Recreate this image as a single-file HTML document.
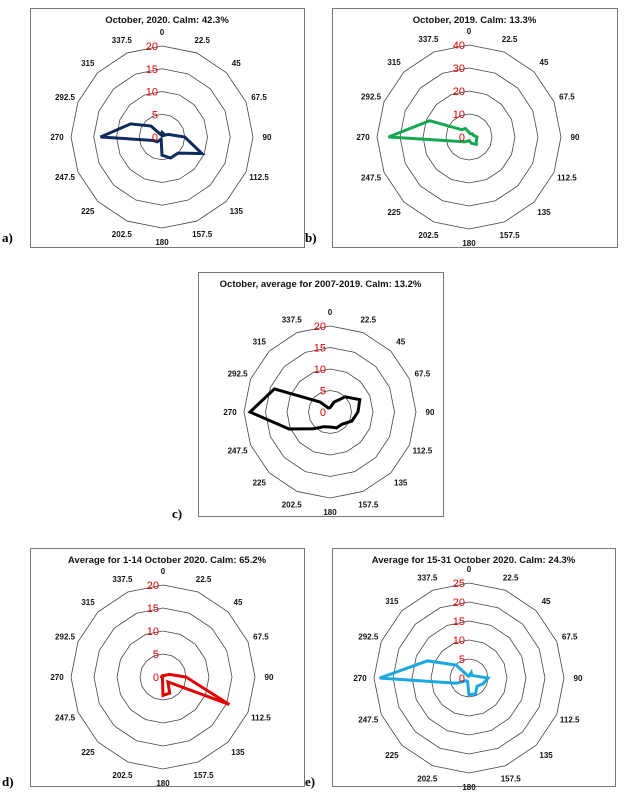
<!DOCTYPE html>
<html><head><meta charset="utf-8"><style>
body{margin:0;background:#fff;}
svg{display:block;font-family:"Liberation Sans",Arial,sans-serif;}
</style></head><body>
<svg id="fig" width="628" height="798" viewBox="0 0 628 798"></svg>
<script>
const directions=[0,22.5,45,67.5,90,112.5,135,157.5,180,202.5,225,247.5,270,292.5,315,337.5];
const valuesA=[1,0.8,0.5,1.5,5,9.5,5,5,4,0.5,1.5,2,13.5,7.5,3.4,0.5];
const valuesB=[2,1.5,2,2,3.5,3.5,4.5,3,1.5,2,3,5,35,18.5,4.5,4];
const valuesC=[1,2.5,5,7.5,6.5,5.5,4,4,3.5,3.7,5.5,10.3,18.6,14,3.3,1];
const valuesD=[0.3,0.2,0.5,1.5,5,15.6,1.5,3.8,4,0.3,0.2,0.2,0.3,0.3,0.2,0.3];
const valuesE=[0.5,1.5,1,1.5,5,4,3,4.5,4.4,1,1,3.6,23.5,11.8,4.8,0.5];
const ticksA=[5,10,15,20];
const ticksB=[10,20,30,40];
const ticksC=[5,10,15,20];
const ticksD=[5,10,15,20];
const ticksE=[5,10,15,20,25];
const titles=["October, 2020. Calm: 42.3%","October, 2019. Calm: 13.3%","October, average for 2007-2019. Calm: 13.2%","Average for 1-14 October 2020. Calm: 65.2%","Average for 15-31 October 2020. Calm: 24.3%"];
const panelLetters=["a)","b)","c)","d)","e)"];

const NS="http://www.w3.org/2000/svg";
const svg=document.getElementById('fig');
function mk(tag,attrs,parent){const e=document.createElementNS(NS,tag);for(const k in attrs)e.setAttribute(k,attrs[k]);(parent||svg).appendChild(e);return e;}

const panels=[
 {box:[30,8,274,239],cx:162,cy:137,r:91,vals:valuesA,ticks:ticksA,color:"#0d2b5c",lab:[2,242],name:"a"},
 {box:[332,8,285,239],cx:469,cy:137,r:92,vals:valuesB,ticks:ticksB,color:"#16a851",lab:[305,242],name:"b"},
 {box:[198,272,245,244],cx:330,cy:412,r:86,vals:valuesC,ticks:ticksC,color:"#000",lab:[172,518],name:"c"},
 {box:[30,548,274,238],cx:163,cy:677,r:92,vals:valuesD,ticks:ticksD,color:"#e30000",lab:[2,786],name:"d"},
 {box:[332,548,283,238],cx:469,cy:678,r:95,vals:valuesE,ticks:ticksE,color:"#1ba8e0",lab:[305,786],name:"e"}
];

panels.forEach((p,i)=>{
 const g=mk('g',{});
 
 
 const b=mk('rect',{x:p.box[0]+0.5,y:p.box[1]+0.5,width:p.box[2],height:p.box[3],fill:'#fff',stroke:'#777','stroke-width':1},g);
 
 
 const t=mk('text',{x:p.box[0]+p.box[2]/2,y:p.box[1]+15,'text-anchor':'middle','font-size':'9.5','font-weight':'bold',fill:'#111'},g);
 t.textContent=titles[i];
 
 
 const max=p.ticks[p.ticks.length-1];
 const rad=v=>v/max*p.r;
 const pt=(deg,rr)=>{const a=deg*Math.PI/180;return [p.cx+rr*Math.sin(a),p.cy-rr*Math.cos(a)];};
 p.ticks.forEach(tv=>{
  const pts=directions.map(d=>pt(d,rad(tv)).join(',')).join(' ');
  const ring=mk('polygon',{points:pts,fill:'none',stroke:'#444','stroke-width':0.8},g);
  
  
 });
 const pts=directions.map((d,k)=>pt(d,rad(p.vals[k])).join(',')).join(' ');
 const line=mk('polygon',{points:pts,fill:'none',stroke:p.color,'stroke-width':3,'stroke-linejoin':'miter'},g);
 
 
 [0].concat(p.ticks).forEach(tv=>{
  const tt=mk('text',{x:p.cx-4,y:p.cy-rad(tv)+4,'text-anchor':'end','font-size':'11',fill:'#e00000'},g);
  tt.textContent=tv;
  
  
 });
 directions.forEach(d=>{
  const q=pt(d,p.r+14);
  const dl=mk('text',{x:q[0],y:q[1]+3,'text-anchor':'middle','font-size':'8','font-weight':'bold',fill:'#111'},g);
  dl.textContent=d;
  
  
 });
 const pl=mk('text',{x:p.lab[0],y:p.lab[1],'font-size':'13','font-weight':'bold','font-family':'"Liberation Serif",serif',fill:'#000'});
 pl.textContent=panelLetters[i];
 
 
});
</script>
</body></html>
